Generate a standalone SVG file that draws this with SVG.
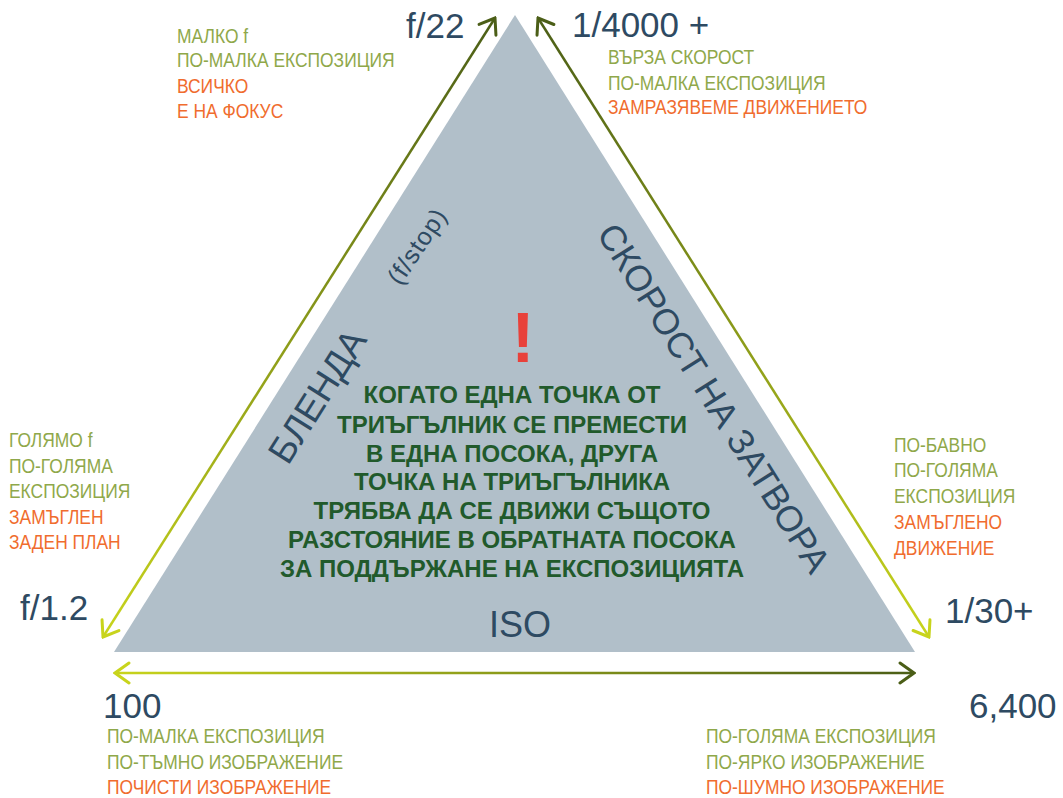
<svg xmlns="http://www.w3.org/2000/svg" width="1063" height="798" viewBox="0 0 1063 798">
<style>
.num{font-family:"Liberation Sans",Arial,sans-serif;font-size:35px;fill:#2e4a62}
.lbl{font-family:"Liberation Sans",Arial,sans-serif;font-size:20.5px}
.g{fill:#8fa84a}
.o{fill:#f06c2e}
.side{font-family:"Liberation Sans",Arial,sans-serif;fill:#2e4a62}
.center{font-family:"Liberation Sans",Arial,sans-serif;font-size:24px;font-weight:bold;fill:#215a2b;text-anchor:middle}
</style>
<defs>
<linearGradient id="gL" gradientUnits="userSpaceOnUse" x1="103" y1="637" x2="495" y2="18">
<stop offset="0" stop-color="#c8d41c"/><stop offset="1" stop-color="#4b5e17"/>
</linearGradient>
<linearGradient id="gR" gradientUnits="userSpaceOnUse" x1="538" y1="18" x2="929" y2="637">
<stop offset="0" stop-color="#4b5e17"/><stop offset="1" stop-color="#c8d41c"/>
</linearGradient>
<linearGradient id="gB" gradientUnits="userSpaceOnUse" x1="115" y1="673" x2="914" y2="673">
<stop offset="0" stop-color="#c8d41c"/><stop offset="1" stop-color="#4b5e17"/>
</linearGradient>
<marker id="hDark" markerUnits="userSpaceOnUse" viewBox="-18 -12 20 24" markerWidth="20" markerHeight="24" refX="0" refY="0" orient="auto-start-reverse">
<path d="M-14,-10 L0,0 L-14,10" fill="none" stroke="#4b5e17" stroke-width="3" stroke-linecap="round" stroke-linejoin="miter"/>
</marker>
<marker id="hLight" markerUnits="userSpaceOnUse" viewBox="-18 -12 20 24" markerWidth="20" markerHeight="24" refX="0" refY="0" orient="auto-start-reverse">
<path d="M-14,-10 L0,0 L-14,10" fill="none" stroke="#c8d41c" stroke-width="3" stroke-linecap="round" stroke-linejoin="miter"/>
</marker>
</defs>
<rect width="1063" height="798" fill="#ffffff"/>

<g id="triangle">
<polygon points="515,15 114,652 915,652" fill="#b1bfc9"/>
<text class="side" font-size="37" text-anchor="middle" dy="0.35em" transform="translate(317,396) rotate(-57.8)">БЛЕНДА</text>
<text class="side" font-size="25" letter-spacing="1" text-anchor="middle" dy="0.35em" transform="translate(417,246) rotate(-56)">(f/stop)</text>
<text class="side" font-size="36" text-anchor="middle" dy="0.35em" transform="translate(714,398) rotate(57.9)">СКОРОСТ НА ЗАТВОРА</text>
<text class="side" font-size="36" text-anchor="middle" x="520" y="637">ISO</text>
<text x="523" y="362" font-family="Liberation Sans,Arial,sans-serif" font-size="70" font-weight="bold" fill="#e8413a" text-anchor="middle">!</text>
<text class="center" x="512" y="403">КОГАТО ЕДНА ТОЧКА ОТ</text>
<text class="center" x="512" y="433">ТРИЪГЪЛНИК СЕ ПРЕМЕСТИ</text>
<text class="center" x="512" y="462">В ЕДНА ПОСОКА, ДРУГА</text>
<text class="center" x="512" y="490">ТОЧКА НА ТРИЪГЪЛНИКА</text>
<text class="center" x="512" y="519">ТРЯБВА ДА СЕ ДВИЖИ СЪЩОТО</text>
<text class="center" x="512" y="548">РАЗСТОЯНИЕ В ОБРАТНАТА ПОСОКА</text>
<text class="center" x="512" y="577">ЗА ПОДДЪРЖАНЕ НА ЕКСПОЗИЦИЯТА</text>
</g>

<g id="connectors" fill="none" stroke-width="2.5">
<line x1="103" y1="637" x2="495" y2="18" stroke="url(#gL)" marker-start="url(#hLight)" marker-end="url(#hDark)"/>
<line x1="538" y1="18" x2="929" y2="637" stroke="url(#gR)" marker-start="url(#hDark)" marker-end="url(#hLight)"/>
<line x1="115" y1="673" x2="914" y2="673" stroke="url(#gB)" marker-start="url(#hLight)" marker-end="url(#hDark)"/>
</g>

<g id="f22"><text class="num" x="406" y="38">f/22</text></g>
<g id="s4000"><text class="num" x="572" y="37">1/4000 +</text></g>
<g id="f12"><text class="num" x="20" y="620">f/1.2</text></g>
<g id="s30"><text class="num" x="945" y="623">1/30+</text></g>
<g id="iso100"><text class="num" x="103" y="718">100</text></g>
<g id="iso6400"><text class="num" x="969" y="718">6,400</text></g>

<g id="note-topleft" class="lbl" transform="translate(177,0) scale(0.85,1)">
<text class="g" x="0" y="43">МАЛКО f</text>
<text class="g" x="0" y="67">ПО-МАЛКА ЕКСПОЗИЦИЯ</text>
<text class="o" x="0" y="93">ВСИЧКО</text>
<text class="o" x="0" y="118">Е НА ФОКУС</text>
</g>
<g id="note-topright" class="lbl" transform="translate(608,0) scale(0.85,1)">
<text class="g" x="0" y="64">ВЪРЗА СКОРОСТ</text>
<text class="g" x="0" y="90">ПО-МАЛКА ЕКСПОЗИЦИЯ</text>
<text class="o" x="0" y="114">ЗАМРАЗЯВЕМЕ ДВИЖЕНИЕТО</text>
</g>
<g id="note-left" class="lbl" transform="translate(9,0) scale(0.85,1)">
<text class="g" x="0" y="447">ГОЛЯМО f</text>
<text class="g" x="0" y="473">ПО-ГОЛЯМА</text>
<text class="g" x="0" y="498">ЕКСПОЗИЦИЯ</text>
<text class="o" x="0" y="524">ЗАМЪГЛЕН</text>
<text class="o" x="0" y="549">ЗАДЕН ПЛАН</text>
</g>
<g id="note-right" class="lbl" transform="translate(894,0) scale(0.85,1)">
<text class="g" x="0" y="452">ПО-БАВНО</text>
<text class="g" x="0" y="477">ПО-ГОЛЯМА</text>
<text class="g" x="0" y="503">ЕКСПОЗИЦИЯ</text>
<text class="o" x="0" y="529">ЗАМЪГЛЕНО</text>
<text class="o" x="0" y="555">ДВИЖЕНИЕ</text>
</g>
<g id="note-bottomleft" class="lbl" transform="translate(107,0) scale(0.85,1)">
<text class="g" x="0" y="743">ПО-МАЛКА ЕКСПОЗИЦИЯ</text>
<text class="g" x="0" y="769">ПО-ТЪМНО ИЗОБРАЖЕНИЕ</text>
<text class="o" x="0" y="794">ПОЧИСТИ ИЗОБРАЖЕНИЕ</text>
</g>
<g id="note-bottomright" class="lbl" transform="translate(706,0) scale(0.85,1)">
<text class="g" x="0" y="743">ПО-ГОЛЯМА ЕКСПОЗИЦИЯ</text>
<text class="g" x="0" y="769">ПО-ЯРКО ИЗОБРАЖЕНИЕ</text>
<text class="o" x="0" y="794">ПО-ШУМНО ИЗОБРАЖЕНИЕ</text>
</g>
</svg>
